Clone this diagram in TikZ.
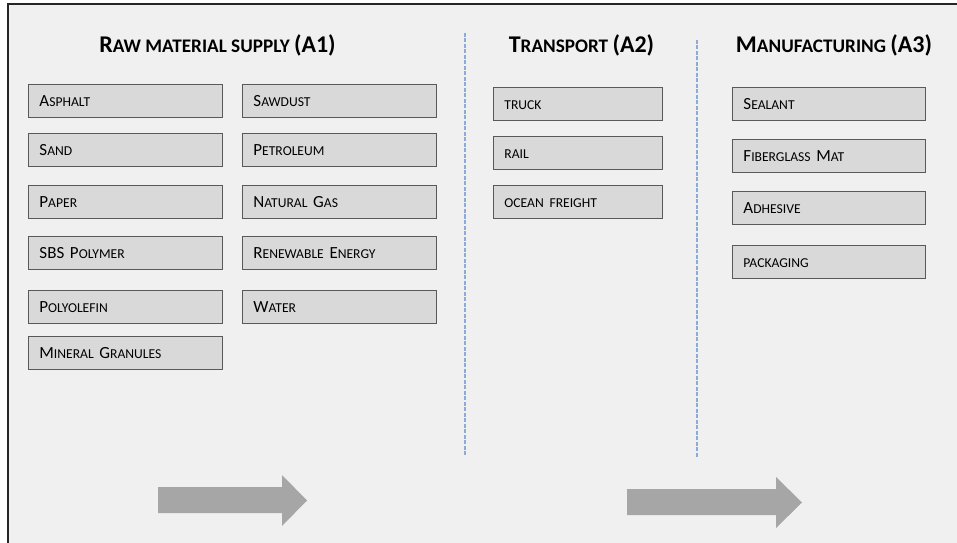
\documentclass[tikz,border=0pt]{standalone}
\usepackage{fontspec}
\setmainfont{Carlito}
\definecolor{bgc}{HTML}{F0F0F0}
\definecolor{framec}{HTML}{262626}
\definecolor{boxfill}{HTML}{D9D9D9}
\definecolor{boxborder}{HTML}{595959}
\definecolor{dashc}{HTML}{8EAADB}
\definecolor{arrc}{HTML}{A6A6A6}
\newcommand\bsm[1]{{\fontsize{13.6bp}{16bp}\selectfont #1}}
\newcommand\tsm[1]{{\fontsize{19.2bp}{23bp}\selectfont #1}}
\begin{document}
\begin{tikzpicture}[x=1bp,y=-1bp,
  itembox/.style={draw=boxborder, fill=boxfill, line width=0.9bp, inner xsep=11bp, inner ysep=0pt,
    minimum height=33bp, text height=11bp, text depth=0bp, anchor=north west, align=left,
    font=\fontsize{17bp}{20bp}\selectfont},
  colA/.style={text width=172bp},
  colB/.style={text width=147bp},
  colC/.style={text width=171bp},
  title/.style={anchor=base, inner sep=0pt, font=\fontsize{24bp}{29bp}\selectfont\bfseries},
  sep/.style={draw=dashc, line width=1.4bp, dash pattern=on 4bp off 1.5bp},
  bigarrow/.style={fill=arrc, draw=none}]
\useasboundingbox (0,0) rectangle (957,543);
\fill[white] (0,0) rectangle (957,543);
\fill[bgc] (8,4) rectangle (957,543);
\draw[framec, line width=1.5bp] (8,543) -- (8,4) -- (957,4);

% titles
\node[title] (t1) at (217.5,53) {R\tsm{AW MATERIAL SUPPLY }(A1)};
\node[title] (t2) at (581.5,53) {T\tsm{RANSPORT }(A2)};
\node[title] (t3) at (834,53) {M\tsm{ANUFACTURING }(A3)};

% separators
\coordinate (d1a) at (465,33); \coordinate (d1b) at (465,456);
\coordinate (d2a) at (697,40); \coordinate (d2b) at (697,457);
\draw[sep] (d1a) -- (d1b);
\draw[sep] (d2a) -- (d2b);

% A1 left column
\node[itembox,colA] (asphalt) at (28,84) {A\bsm{SPHALT}};
\node[itembox,colA] (sand) at (28,133) {S\bsm{AND}};
\node[itembox,colA] (paper) at (28,185) {P\bsm{APER}};
\node[itembox,colA] (sbs) at (28,236) {SBS\bsm{ }P\bsm{OLYMER}};
\node[itembox,colA] (poly) at (28,290) {P\bsm{OLYOLEFIN}};
\node[itembox,colA] (mineral) at (28,336) {M\bsm{INERAL }G\bsm{RANULES}};
% A1 right column
\node[itembox,colA] (sawdust) at (242,84) {S\bsm{AWDUST}};
\node[itembox,colA] (petrol) at (242,133) {P\bsm{ETROLEUM}};
\node[itembox,colA] (gas) at (242,185) {N\bsm{ATURAL }G\bsm{AS}};
\node[itembox,colA] (renew) at (242,236) {R\bsm{ENEWABLE }E\bsm{NERGY}};
\node[itembox,colA] (water) at (242,290) {W\bsm{ATER}};
% A2
\node[itembox,colB] (truck) at (493,87) {\bsm{TRUCK}};
\node[itembox,colB] (rail) at (493,136) {\bsm{RAIL}};
\node[itembox,colB] (ocean) at (493,185) {\bsm{OCEAN FREIGHT}};
% A3
\node[itembox,colC] (sealant) at (732,87) {S\bsm{EALANT}};
\node[itembox,colC] (fiber) at (732,139) {F\bsm{IBERGLASS }M\bsm{AT}};
\node[itembox,colC] (adhesive) at (732,191) {A\bsm{DHESIVE}};
\node[itembox,colC] (pack) at (732,245) {\bsm{PACKAGING}};

% big arrows
\fill[bigarrow] (158,487) -- (282,487) -- (282,475) -- (307,500.5) -- (282,526) -- (282,513) -- (158,513) -- cycle;
\fill[bigarrow] (627,489) -- (776,489) -- (776,477) -- (802,502.5) -- (776,528) -- (776,515) -- (627,515) -- cycle;
\end{tikzpicture}
\end{document}
